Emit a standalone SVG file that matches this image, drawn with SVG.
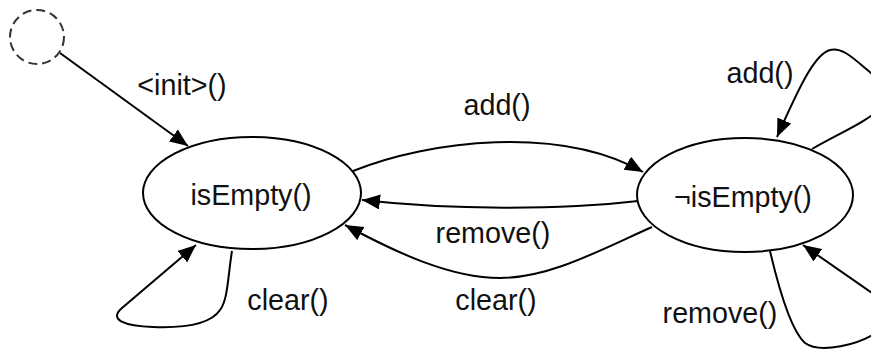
<svg xmlns="http://www.w3.org/2000/svg" width="871" height="350" viewBox="0 0 871 350">
<defs>
<style>
.node{fill:#fff;stroke:#000;stroke-width:2}
.init{fill:none;stroke:#333;stroke-width:2;stroke-dasharray:9 5}
.edge{fill:none;stroke:#000;stroke-width:2;marker-end:url(#arrow)}
text{font-family:"Liberation Sans",Arial,Helvetica,sans-serif;font-size:28.7px;fill:#111;text-anchor:middle}
</style>
<marker id="arrow" markerUnits="userSpaceOnUse" markerWidth="20" markerHeight="16" refX="18" refY="7.5" orient="auto">
<path d="M0,0 L18,7.5 L0,15 z" fill="#000"/>
</marker>
</defs>
<rect width="871" height="350" fill="#fff"/>
<g id="connectors">
<path id="e-init" class="edge" d="M60,53 L188,146"/>
<path id="e-add" class="edge" d="M353,171 C430,140 560,125 643,172"/>
<path id="e-remove" class="edge" d="M638,201 C560,210 450,210 362,200"/>
<path id="e-clear" class="edge" d="M652,227 C600,250 550,278 500,278 C450,278 395,252 345,225"/>
<path id="e-clear-self" class="edge" d="M232,251 C228,275 228,300 220,310 C210,325 180,328 153,327 C125,326 108,320 122,308 L196,245"/>
<path id="e-add-self" class="edge" d="M812,149 C840,133 870,120 880,108 C892,94 880,80 865,68 C850,55 840,47 830,50 C815,54 800,85 777,137"/>
<path id="e-remove-self" class="edge" d="M770,251 C778,285 790,330 805,343 C820,354 860,345 880,330 C895,318 895,308 885,302 L803,245"/>
<text x="182" y="95">&lt;init&gt;()</text>
<text x="497" y="115">add()</text>
<text x="493" y="243">remove()</text>
<text x="496" y="310">clear()</text>
<text x="288" y="310">clear()</text>
<text x="760" y="83">add()</text>
<text x="720" y="323">remove()</text>
</g>
<g id="start">
<circle class="init" cx="37" cy="37" r="27"/>
</g>
<g id="empty">
<ellipse class="node" cx="252" cy="193" rx="109" ry="56"/>
<text x="251" y="205">isEmpty()</text>
</g>
<g id="notempty">
<ellipse class="node" cx="745" cy="195" rx="108" ry="57"/>
<text x="743" y="207">¬isEmpty()</text>
</g>
</svg>
